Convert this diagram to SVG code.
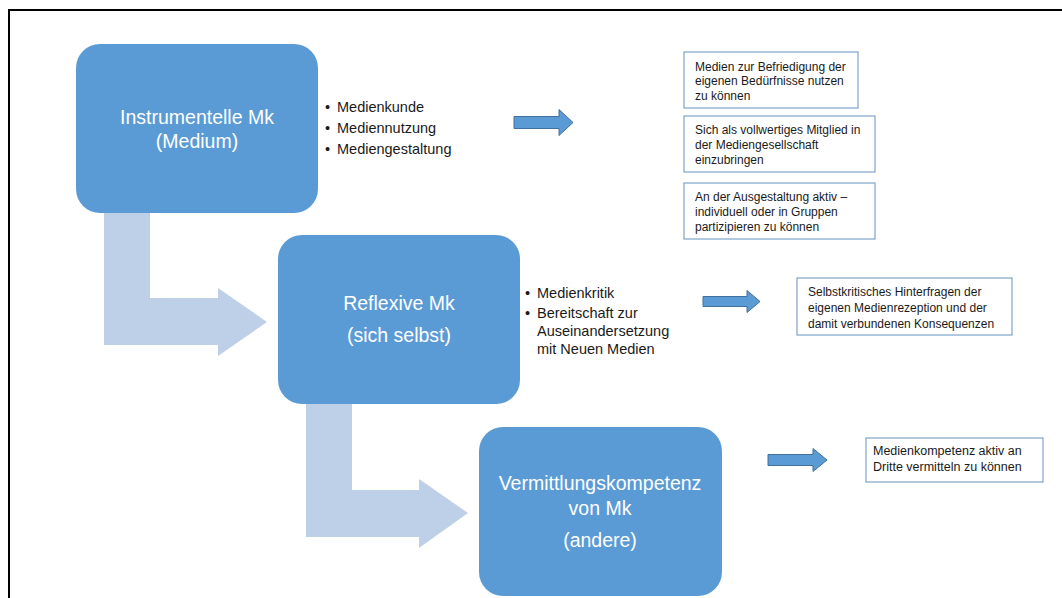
<svg xmlns="http://www.w3.org/2000/svg" width="1062" height="598" viewBox="0 0 1062 598">
<style>
.node{fill:#5b9bd5;}
.nt{font-family:"Liberation Sans",Arial,sans-serif;font-size:19.5px;fill:#ffffff;text-anchor:middle;}
.bent{fill:#bed0e8;}
.sa{fill:#5b9bd5;stroke:#41719c;stroke-width:1;}
.bl{font-family:"Liberation Sans",Arial,sans-serif;font-size:14.5px;fill:#1a1a1a;}
.box{fill:#ffffff;stroke:#7da3c9;stroke-width:1.2;}
.bt{font-family:"Liberation Sans",Arial,sans-serif;font-size:12px;fill:#1a1a1a;}
.bte{font-family:"Liberation Sans",Arial,sans-serif;font-size:12.5px;fill:#1a1a1a;}
</style>
<rect x="0" y="0" width="1062" height="598" fill="#ffffff"/>
<rect x="9" y="10" width="1100" height="700" fill="none" stroke="#000000" stroke-width="2"/>
<g id="connectors">
<path class="bent" d="M104,200 L150,200 L150,298 L218,298 L218,288 L267,322 L218,356 L218,345 L104,345 Z"/>
<path class="bent" d="M306,395 L352,395 L352,490 L419,490 L419,479 L468,513 L419,548 L419,537 L306,537 Z"/>
<path class="sa" d="M514,116.5 L559,116.5 L559,109.5 L573,122.5 L559,135.5 L559,128.5 L514,128.5 Z"/>
<path class="sa" d="M703,296.5 L747,296.5 L747,290.5 L760,301.5 L747,312.5 L747,306.5 L703,306.5 Z"/>
<path class="sa" d="M768,454.5 L813,454.5 L813,448.5 L827,460 L813,471.5 L813,465.5 L768,465.5 Z"/>
</g>
<g id="node-instrumentelle">
<rect class="node" x="76" y="44" width="242" height="169" rx="24"/>
<text class="nt" x="197" y="124">Instrumentelle Mk</text>
<text class="nt" x="197" y="148">(Medium)</text>
</g>
<g id="node-reflexive">
<rect class="node" x="278" y="235" width="242" height="169" rx="24"/>
<text class="nt" x="399" y="310">Reflexive Mk</text>
<text class="nt" x="399" y="342">(sich selbst)</text>
</g>
<g id="node-vermittlung">
<rect class="node" x="479" y="427" width="243" height="169" rx="24"/>
<text class="nt" x="600" y="490">Vermittlungskompetenz</text>
<text class="nt" x="600" y="515">von Mk</text>
<text class="nt" x="600" y="547">(andere)</text>
</g>
<g id="bullets-1">
<text class="bl" x="325" y="112">•</text><text class="bl" x="337" y="112">Medienkunde</text>
<text class="bl" x="325" y="133">•</text><text class="bl" x="337" y="133">Mediennutzung</text>
<text class="bl" x="325" y="154">•</text><text class="bl" x="337" y="154">Mediengestaltung</text>
</g>
<g id="bullets-2">
<text class="bl" x="525" y="298">•</text><text class="bl" x="537" y="298">Medienkritik</text>
<text class="bl" x="525" y="318">•</text><text class="bl" x="537" y="318">Bereitschaft zur</text>
<text class="bl" x="537" y="336">Auseinandersetzung</text>
<text class="bl" x="537" y="354">mit Neuen Medien</text>
</g>
<g id="box-a">
<rect class="box" x="684" y="52" width="174" height="56"/>
<text class="bt" x="695" y="70.5">Medien zur Befriedigung der</text>
<text class="bt" x="695" y="85">eigenen Bedürfnisse nutzen</text>
<text class="bt" x="695" y="99.5">zu können</text>
</g>
<g id="box-b">
<rect class="box" x="684" y="116" width="191" height="56"/>
<text class="bt" x="695" y="134">Sich als vollwertiges Mitglied in</text>
<text class="bt" x="695" y="149">der Mediengesellschaft</text>
<text class="bt" x="695" y="164">einzubringen</text>
</g>
<g id="box-c">
<rect class="box" x="684" y="183" width="191" height="56"/>
<text class="bt" x="695" y="201">An der Ausgestaltung aktiv –</text>
<text class="bt" x="695" y="216">individuell oder in Gruppen</text>
<text class="bt" x="695" y="231">partizipieren zu können</text>
</g>
<g id="box-d">
<rect class="box" x="797" y="278" width="215" height="57"/>
<text class="bt" x="808" y="296">Selbstkritisches Hinterfragen der</text>
<text class="bt" x="808" y="312">eigenen Medienrezeption und der</text>
<text class="bt" x="808" y="328">damit verbundenen Konsequenzen</text>
</g>
<g id="box-e">
<rect class="box" x="866" y="438" width="177" height="44"/>
<text class="bte" x="873" y="455">Medienkompetenz aktiv an</text>
<text class="bte" x="873" y="471">Dritte vermitteln zu können</text>
</g>
</svg>
